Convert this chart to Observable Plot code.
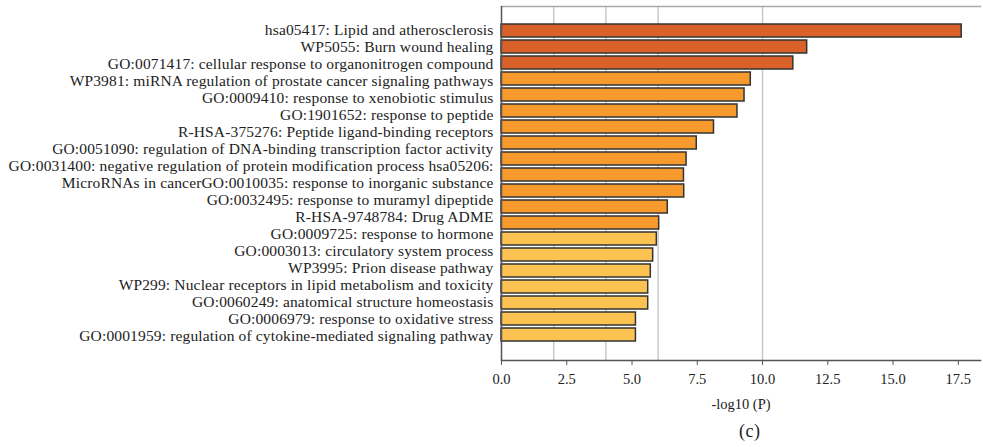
<!DOCTYPE html>
<html>
<head>
<meta charset="utf-8">
<script src="https://cdn.jsdelivr.net/npm/d3@7"></script>
<script src="https://cdn.jsdelivr.net/npm/@observablehq/plot@0.6"></script>
<style>
  html, body { margin: 0; padding: 0; background: #fff; }
  #wrap { position: relative; width: 983px; height: 447px; }
  #chart svg, #labels svg { display: block; }
  #labels { position: absolute; left: 0; top: 0; pointer-events: none; }
  #caption { font-family: "Liberation Serif", "DejaVu Serif", serif; font-size: 18px; color: #222; position: absolute; left: 739px; top: 421px; letter-spacing: 0.5px; }
</style>
</head>
<body>
<div id="wrap">
  <div id="chart"></div>
  <div id="labels"></div>
  <div id="caption">(c)</div>
</div>
<script>
// Bars (20 enrichment terms)
const barTerms = [
  "hsa05417: Lipid and atherosclerosis",
  "WP5055: Burn wound healing",
  "GO:0071417: cellular response to organonitrogen compound",
  "WP3981: miRNA regulation of prostate cancer signaling pathways",
  "GO:0009410: response to xenobiotic stimulus",
  "GO:1901652: response to peptide",
  "R-HSA-375276: Peptide ligand-binding receptors",
  "GO:0051090: regulation of DNA-binding transcription factor activity",
  "GO:0031400: negative regulation of protein modification process",
  "hsa05206: MicroRNAs in cancer",
  "GO:0010035: response to inorganic substance",
  "GO:0032495: response to muramyl dipeptide",
  "R-HSA-9748784: Drug ADME",
  "GO:0009725: response to hormone",
  "GO:0003013: circulatory system process",
  "WP3995: Prion disease pathway",
  "WP299: Nuclear receptors in lipid metabolism and toxicity",
  "GO:0060249: anatomical structure homeostasis",
  "GO:0006979: response to oxidative stress",
  "GO:0001959: regulation of cytokine-mediated signaling pathway"
];
const logP = [17.63, 11.71, 11.18, 9.55, 9.31, 9.04, 8.14, 7.48, 7.09, 6.99, 7.0, 6.37, 6.04, 5.95, 5.81, 5.72, 5.62, 5.62, 5.15, 5.15];
const levels = ["high","high","high","mid","mid","mid","mid","mid","mid","mid","mid","mid","mid","low","low","low","low","low","low","low"];

// Label column exactly as printed in the figure (19 lines)
const labelLines = [
  "hsa05417: Lipid and atherosclerosis",
  "WP5055: Burn wound healing",
  "GO:0071417: cellular response to organonitrogen compound",
  "WP3981: miRNA regulation of prostate cancer signaling pathways",
  "GO:0009410: response to xenobiotic stimulus",
  "GO:1901652: response to peptide",
  "R-HSA-375276: Peptide ligand-binding receptors",
  "GO:0051090: regulation of DNA-binding transcription factor activity",
  "GO:0031400: negative regulation of protein modification process hsa05206:",
  "MicroRNAs in cancerGO:0010035: response to inorganic substance",
  "GO:0032495: response to muramyl dipeptide",
  "R-HSA-9748784: Drug ADME",
  "GO:0009725: response to hormone",
  "GO:0003013: circulatory system process",
  "WP3995: Prion disease pathway",
  "WP299: Nuclear receptors in lipid metabolism and toxicity",
  "GO:0060249: anatomical structure homeostasis",
  "GO:0006979: response to oxidative stress",
  "GO:0001959: regulation of cytokine-mediated signaling pathway"
];

const gridValues = [2, 4, 6, 10];
const xTicks = [0, 2.5, 5, 7.5, 10, 12.5, 15, 17.5];
const levelColors = {high: "#DA6129", mid: "#F79A2D", low: "#FDC352"};

const data = barTerms.map((t, i) => ({term: t, p: logP[i], level: levels[i]}));

const font = "'Liberation Serif', 'DejaVu Serif', serif";

const chart = Plot.plot({
  width: 983,
  height: 418,
  marginLeft: 501,
  marginRight: 3,
  marginTop: 6,
  marginBottom: 58,
  style: {fontFamily: font, fontSize: "14.5px", color: "#222", background: "#fff"},
  x: {domain: [0, 18.35]},
  y: {domain: barTerms, paddingInner: 0.17, paddingOuter: 0.58, axis: null},
  marks: [
    Plot.ruleX(gridValues, {stroke: "#c8c8c8", strokeWidth: 1.5}),
    Plot.frame({anchor: "top", stroke: "#aaa", strokeWidth: 1.5}),
    Plot.barX(data, {x: "p", y: "term", fill: d => levelColors[d.level], stroke: "#333", strokeWidth: 1.5}),
    Plot.ruleX([0], {stroke: "#555", strokeWidth: 1.5}),
    Plot.frame({anchor: "bottom", stroke: "#555", strokeWidth: 1.5}),
    Plot.axisX({ticks: xTicks, tickFormat: d3.format(".1f"), tickSize: 5, tickPadding: 8, stroke: "#555", label: "-log10 (P)", labelAnchor: "center", labelArrow: "none", labelOffset: 48, fontSize: "14.5px"})
  ]
});
document.getElementById("chart").appendChild(chart);

const labels = Plot.plot({
  width: 983,
  height: 418,
  marginLeft: 501,
  marginRight: 3,
  marginTop: 6,
  marginBottom: 58,
  style: {fontFamily: font, fontSize: "15.5px", color: "#222", background: "transparent", letterSpacing: "0.15px"},
  y: {type: "point", domain: labelLines, padding: 0.94},
  marks: [
    Plot.axisY({tickSize: 0, tickPadding: 8, label: null, fontSize: "15.5px"})
  ]
});
document.getElementById("labels").appendChild(labels);
</script>
</body>
</html>
